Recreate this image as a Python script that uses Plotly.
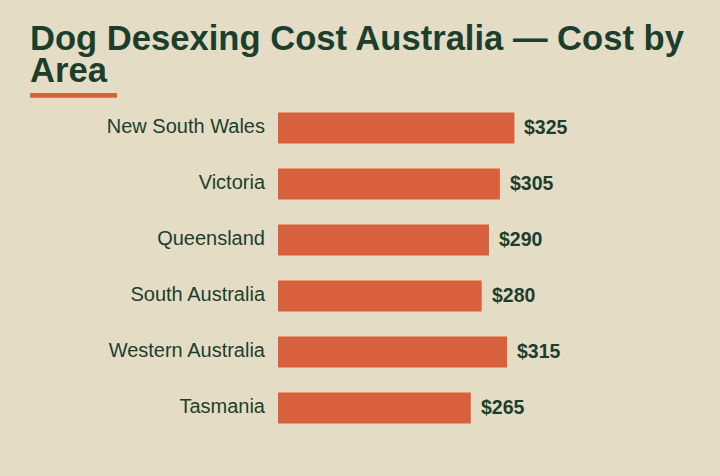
import plotly.graph_objects as go

regions = ["New South Wales", "Victoria", "Queensland", "South Australia",
           "Western Australia", "Tasmania"]
costs = [325, 305, 290, 280, 315, 265]
cost_labels = ["$325", "$305", "$290", "$280", "$315", "$265"]

title_line1 = "Dog Desexing Cost Australia — Cost by"
title_line2 = "Area"

bg = "#E5DCC5"
orange = "#D9603C"
green = "#1B3F2C"
font = "Liberation Sans, Arial, sans-serif"

# plot area in pixels, used to place title bits in paper coords
L, R, T, B = 278, 151, 100, 40
W, H = 720, 476
pw, ph = W - L - R, H - T - B


def px_x(x):
    return (x - L) / pw


def px_y(y):
    return (H - B - y) / ph


fig = go.Figure(go.Bar(
    x=costs,
    y=regions,
    orientation="h",
    marker=dict(color=orange, line=dict(width=0)),
    width=0.55,
    hoverinfo="skip",
))

# value labels at the end of each bar
for region, cost, label in zip(regions, costs, cost_labels):
    fig.add_annotation(
        x=cost, y=region, text=label, showarrow=False,
        xanchor="left", yanchor="middle", xshift=8, yshift=1,
        font=dict(family=font, size=19.5, color=green, weight="bold"),
    )

fig.add_annotation(
    x=px_x(28), y=px_y(17), xref="paper", yref="paper",
    text=f"<b>{title_line1}</b>", showarrow=False,
    xanchor="left", yanchor="top",
    font=dict(family=font, size=34.6, color=green),
)
fig.add_annotation(
    x=px_x(28), y=px_y(48.5), xref="paper", yref="paper",
    text=f"<b>{title_line2}</b>", showarrow=False,
    xanchor="left", yanchor="top",
    font=dict(family=font, size=34.6, color=green),
)

# short accent line under the title
fig.add_shape(
    type="rect", xref="paper", yref="paper",
    x0=px_x(30), x1=px_x(117), y0=px_y(97.7), y1=px_y(93),
    fillcolor=orange, line=dict(width=0),
)

fig.update_layout(
    width=W, height=H,
    margin=dict(l=L, r=R, t=T, b=B, pad=0),
    paper_bgcolor=bg,
    plot_bgcolor=bg,
    showlegend=False,
    font=dict(family=font, color=green),
)
fig.update_xaxes(range=[0, 400], visible=False, fixedrange=True)
fig.update_yaxes(
    autorange="reversed",
    showgrid=False, zeroline=False, showline=False,
    ticks="", ticklabelstandoff=12, ticklabelshift=2,
    tickfont=dict(family=font, size=20, color=green),
    fixedrange=True,
)

fig.write_html(
    "out.html",
    config={"displayModeBar": False},
    post_script="document.body.style.margin='0';",
)
